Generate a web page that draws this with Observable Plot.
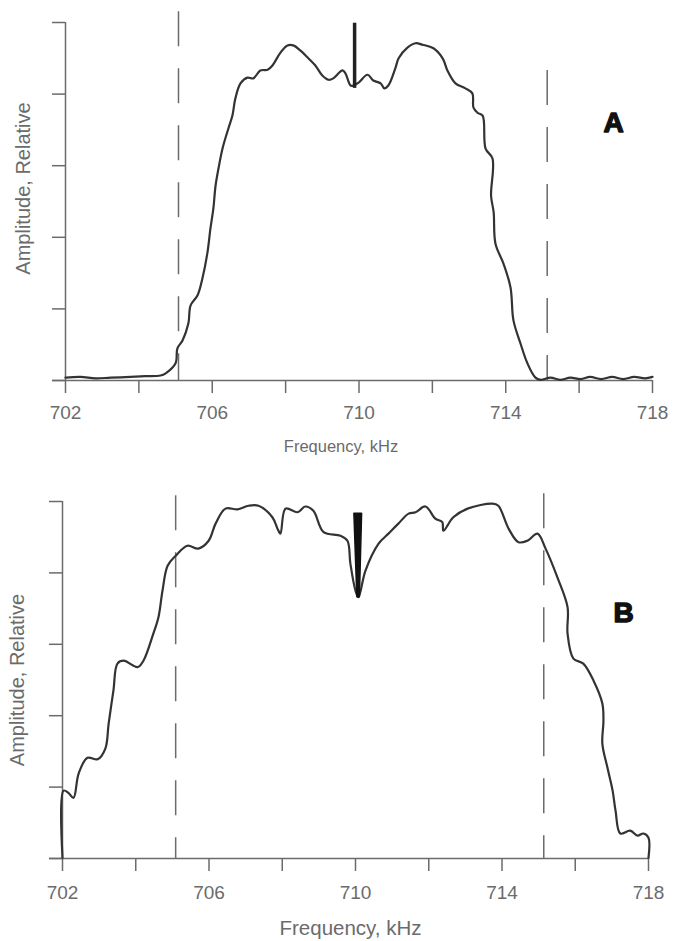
<!DOCTYPE html>
<html>
<head>
<meta charset="utf-8">
<script src="https://cdn.jsdelivr.net/npm/d3@7"></script>
<script src="https://cdn.jsdelivr.net/npm/@observablehq/plot@0.6"></script>
<style>
  html, body { margin: 0; padding: 0; background: #fff; }
  #chart { width: 678px; height: 941px; overflow: hidden; }
  #chart svg { display: block; }
</style>
</head>
<body>
<div id="chart"></div>
<script>
// ---------- data ----------
const freqA = [702.00,702.41,702.82,703.23,703.77,704.18,704.59,704.73,705.00,705.05,705.19,705.35,705.41,705.60,705.73,705.87,705.95,706.03,706.09,706.17,706.28,706.44,706.55,706.63,706.77,706.96,707.12,707.31,707.51,707.64,707.86,708.05,708.21,708.40,708.60,708.81,709.00,709.17,709.30,709.55,709.63,709.77,709.85,709.99,710.23,710.39,710.59,710.69,710.80,710.99,711.08,711.32,711.54,711.73,712.03,712.28,712.41,712.63,712.90,713.09,713.12,713.23,713.37,713.45,713.64,713.60,713.67,713.72,713.94,714.13,714.21,714.40,714.59,714.81,714.95,715.22,715.49,715.76,716.04,716.30,716.60,716.90,717.20,717.50,717.80,718.00];
const ampA  = [0.04,0.05,0.03,0.04,0.05,0.06,0.07,0.10,0.24,0.45,0.56,0.80,1.05,1.19,1.42,1.79,2.12,2.40,2.72,2.96,3.24,3.52,3.70,3.94,4.15,4.23,4.22,4.33,4.34,4.40,4.58,4.68,4.68,4.61,4.51,4.40,4.26,4.20,4.22,4.33,4.29,4.12,4.12,4.16,4.27,4.19,4.15,4.08,4.12,4.36,4.50,4.65,4.71,4.69,4.64,4.50,4.33,4.15,4.08,4.01,3.81,3.74,3.70,3.24,3.10,2.58,2.35,1.91,1.63,1.30,0.84,0.52,0.24,0.04,0.01,0.04,0.01,0.04,0.02,0.05,0.02,0.05,0.02,0.05,0.03,0.05];

const freqB = [702.00,702.03,702.16,702.30,702.44,702.68,702.96,703.17,703.26,703.39,703.50,703.67,704.05,704.21,704.48,704.62,704.73,704.87,705.09,705.41,705.71,705.99,706.18,706.45,706.78,707.08,707.35,707.73,707.87,707.95,708.09,708.42,708.63,708.85,709.13,709.59,709.78,709.86,710.00,710.08,710.27,710.63,710.90,711.17,711.45,711.64,711.91,712.18,712.37,712.40,712.67,713.06,713.74,713.90,714.18,714.45,714.69,714.97,715.19,715.51,715.79,715.79,715.95,716.22,716.50,716.74,716.77,716.74,716.88,717.02,717.10,717.23,717.50,717.70,717.86,718.00,718.00];
const ampB  = [0.01,0.95,0.92,0.85,1.19,1.41,1.39,1.54,1.89,2.35,2.73,2.77,2.68,2.77,3.15,3.38,3.75,4.10,4.24,4.38,4.34,4.45,4.69,4.90,4.89,4.94,4.94,4.78,4.62,4.55,4.90,4.85,4.93,4.87,4.57,4.52,4.45,4.13,3.75,3.66,4.03,4.41,4.55,4.69,4.83,4.85,4.93,4.76,4.71,4.59,4.78,4.90,4.97,4.94,4.62,4.43,4.45,4.55,4.34,3.94,3.52,3.15,2.80,2.73,2.49,2.17,1.93,1.61,1.27,0.95,0.67,0.35,0.39,0.32,0.35,0.29,0.01];

const xTicks = [702,704,706,708,710,712,714,716,718];
const xTickLabels = ["702","","706","","710","","714","","718"];
const yTicks = [0,1,2,3,4,5];
const xTitle = "Frequency, kHz";
const yTitle = "Amplitude, Relative";
const panelLetters = ["A","B"];

// dashed channel edges
const edgeFreqA = [705.08, 715.13];
const edgeTopA  = [5.15, 4.33];
const edgeFreqB = [705.09, 715.14];
const edgeTopB  = [5.08, 5.11];

// carrier markers
const carrierFreqA = [709.88];
const carrierTopA = [4.99];
const carrierBottomA = [4.08];
const carrierYB  = [4.83, 3.66];
const carrierX1B = [709.97, 710.05];
const carrierX2B = [710.18, 710.12];

// ---------- drawing ----------
const axisColor = "#6b6b6b";
const inkColor = "#333333";
const fontFamily = "'Liberation Sans', Arial, Helvetica, sans-serif";

function panel(cfg) {
  const curve = cfg.freq.map((f, i) => ({f, a: cfg.amp[i]}));
  const edges = cfg.edgeFreq.map((f, i) => ({f, top: cfg.edgeTop[i]}));
  return Plot.plot({
    width: 678,
    height: cfg.height,
    marginTop: cfg.marginTop,
    marginBottom: cfg.marginBottom,
    marginLeft: cfg.marginLeft,
    marginRight: cfg.marginRight,
    x: {domain: [702, 718], label: null},
    y: {domain: [0, 5], label: null},
    style: {fontFamily, color: axisColor, background: "#fff", overflow: "visible"},
    marks: [
      Plot.ruleX([702], {strokeWidth: 1.5}),
      Plot.ruleY([0], {strokeWidth: 1.5, insetLeft: -13}),
      Plot.axisY({ticks: yTicks, tickSize: 13, tickFormat: () => "", strokeWidth: 1.5, label: null}),
      Plot.axisX({ticks: xTicks, tickSize: 13, tickPadding: cfg.tickPadding, strokeWidth: 1.5,
                  tickFormat: d => xTickLabels[xTicks.indexOf(d)], fontSize: 19, label: null}),
      Plot.ruleX(edges, {x: "f", y1: "top", y2: () => 0, stroke: axisColor, strokeWidth: 1.5, strokeDasharray: "35,22"}),
      Plot.line(curve, {x: "f", y: "a", stroke: inkColor, strokeWidth: 2.2, curve: "catmull-rom"}),
      ...cfg.carrier,
      Plot.text([xTitle], {text: d => d, frameAnchor: "bottom", lineAnchor: "middle", textAnchor: "middle",
                           dx: cfg.xTitleDx, dy: cfg.xTitleDy, fontSize: cfg.xTitleSize, fill: axisColor}),
      Plot.text([yTitle], {text: d => d, frameAnchor: "left", rotate: -90, lineAnchor: "middle", textAnchor: "middle",
                           dx: cfg.yTitleDx, dy: cfg.yTitleDy, fontSize: 20, fill: axisColor}),
      Plot.text([cfg.letter], {text: d => d, frameAnchor: "top-right", lineAnchor: "middle", textAnchor: "middle",
                               dx: cfg.letterDx, dy: cfg.letterDy, fontSize: 28, fontWeight: 900,
                               fill: "#111", stroke: "#111", strokeWidth: 1.4})
    ]
  });
}

const carrierA = [
  Plot.ruleX(carrierFreqA.map((f, i) => ({f, top: carrierTopA[i], bottom: carrierBottomA[i]})),
             {x: "f", y1: "top", y2: "bottom", stroke: "#222", strokeWidth: 3.5})
];
const carrierB = [
  Plot.areaX(carrierYB.map((y, i) => ({y, x1: carrierX1B[i], x2: carrierX2B[i]})),
             {y: "y", x1: "x1", x2: "x2", fill: "#111", stroke: "#111", strokeWidth: 1.5})
];

const chartA = panel({
  freq: freqA, amp: ampA, edgeFreq: edgeFreqA, edgeTop: edgeTopA, carrier: carrierA,
  height: 465, marginTop: 22, marginBottom: 85, marginLeft: 65, marginRight: 26,
  tickPadding: 12, xTitleDx: -18, xTitleDy: 66, xTitleSize: 16.5,
  yTitleDx: -42, yTitleDy: -13, letter: panelLetters[0], letterDx: -39, letterDy: 101
});
const chartB = panel({
  freq: freqB, amp: ampB, edgeFreq: edgeFreqB, edgeTop: edgeTopB, carrier: carrierB,
  height: 476, marginTop: 36, marginBottom: 83, marginLeft: 62, marginRight: 30,
  tickPadding: 14, xTitleDx: -5, xTitleDy: 70, xTitleSize: 20.5,
  yTitleDx: -45, yTitleDy: 0, letter: panelLetters[1], letterDx: -25, letterDy: 112
});

const root = document.getElementById("chart");
root.appendChild(chartA);
root.appendChild(chartB);
</script>
</body>
</html>
